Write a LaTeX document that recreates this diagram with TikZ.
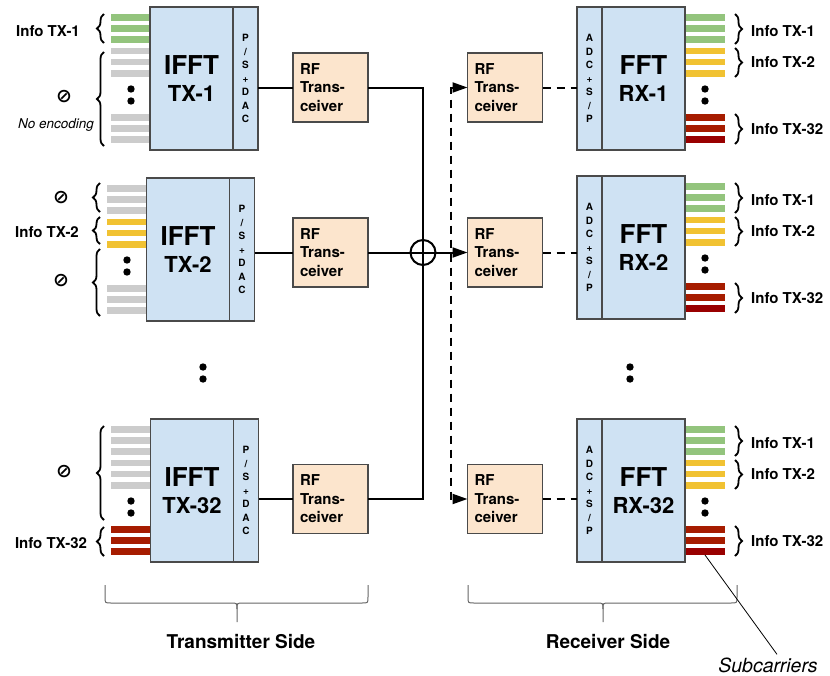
\documentclass[tikz,border=0pt]{standalone}
\usepackage{fontspec}
\setmainfont{TeX Gyre Heros}
\newfontfamily\symfont{DejaVu Sans}
\usetikzlibrary{arrows.meta,decorations.pathreplacing}

\definecolor{blueF}{HTML}{CFE2F3}
\definecolor{peach}{HTML}{FCE5CD}
\definecolor{edgec}{HTML}{4A4A4A}
\definecolor{colG}{HTML}{93C47D}
\definecolor{colY}{HTML}{F1C232}
\definecolor{colR}{HTML}{A61C00}
\definecolor{colD}{HTML}{990000}
\definecolor{colS}{HTML}{CCCCCC}
\definecolor{bgray}{HTML}{666666}

\tikzset{
  blk/.style={draw=edgec, fill=blueF, line width=1.2pt, inner sep=0pt, outer sep=0pt, minimum height=143pt},
  fftbox/.style={blk, minimum width=83pt, align=center, font=\bfseries\fontsize{26}{27}\selectfont},
  convbox/.style={blk, minimum width=25pt, align=center, font=\bfseries\fontsize{10}{13.5}\selectfont},
  rfbox/.style={draw=edgec, fill=peach, line width=1.2pt, outer sep=0pt, minimum width=75pt, minimum height=69pt,
     text width=61pt, inner xsep=7pt, inner ysep=0pt, align=left, font=\bfseries\fontsize{15}{18.5}\selectfont},
  conn/.style={line width=2pt},
  dconn/.style={line width=2pt, dash pattern=on 8.5pt off 5.5pt},
  arr/.style={-{Triangle[length=15pt,width=10pt]}},
  arrtwo/.style={{Triangle[length=15pt,width=10pt]}-{Triangle[length=15pt,width=10pt]}},
  lbr/.style={decorate, decoration={brace, amplitude=7pt}, line width=1.8pt},
  bbr/.style={line width=1pt, draw=bgray},
  info/.style={inner sep=0pt, font=\bfseries\fontsize{15}{17}\selectfont},
  empt/.style={inner sep=0pt, font=\symfont\bfseries\fontsize{19}{20}\selectfont},
  noenc/.style={inner sep=0pt, font=\itshape\fontsize{13.5}{15}\selectfont},
  side/.style={inner sep=0pt, font=\bfseries\fontsize{19}{21}\selectfont},
  subc/.style={inner sep=3pt, font=\itshape\fontsize{19.5}{21}\selectfont},
}

\newcommand\barsset[3]{%
  \foreach \c [count=\i from 0] in {#3} {%
    \pgfmathsetmacro\yy{#2 + (\i<6 ? 7+11.2*\i : 107+11.2*(\i-6))}%
    \fill[color=\c] (#1,\yy) rectangle ++(40,6.5);
  }
  \fill (#1+20,#2+82) circle[radius=3.7pt];
  \fill (#1+20,#2+94) circle[radius=3.7pt];
}

\begin{document}
\begin{tikzpicture}[x=1pt,y=-1pt]
\useasboundingbox (0,0) rectangle (830,675);

% ---------- subcarrier bars ----------
\barsset{111}{7}{colG,colG,colG,colS,colS,colS,colS,colS,colS}
\barsset{107}{178}{colS,colS,colS,colY,colY,colY,colS,colS,colS}
\barsset{111}{419}{colS,colS,colS,colS,colS,colS,colR,colR,colR}
\barsset{685}{7}{colG,colG,colG,colY,colY,colY,colR,colR,colD}
\barsset{685}{176}{colG,colG,colG,colY,colY,colY,colR,colR,colD}
\barsset{685}{419}{colG,colG,colG,colY,colY,colY,colR,colR,colD}

% ---------- transmitter blocks ----------
\node[fftbox] (tx1) at (191.5,78.5) {IFFT\\{\fontsize{22}{27}\selectfont TX-1}};
\node[convbox, anchor=west] (tx1ps) at (tx1.east) {P\\/\\S\\+\\D\\A\\C};
\node[fftbox] (tx2) at (188,249.5) {IFFT\\{\fontsize{22}{27}\selectfont TX-2}};
\node[convbox, anchor=west] (tx2ps) at (tx2.east) {P\\/\\S\\+\\D\\A\\C};
\node[fftbox] (tx32) at (192,490.5) {IFFT\\{\fontsize{22}{27}\selectfont TX-32}};
\node[convbox, anchor=west] (tx32ps) at (tx32.east) {P\\/\\S\\+\\D\\A\\C};

% ---------- receiver blocks ----------
\node[fftbox] (rx1) at (643.5,78.5) {FFT\\{\fontsize{22}{27}\selectfont RX-1}};
\node[convbox, anchor=east] (rx1adc) at (rx1.west) {A\\D\\C\\+\\S\\/\\P};
\node[fftbox] (rx2) at (643.5,247.5) {FFT\\{\fontsize{22}{27}\selectfont RX-2}};
\node[convbox, anchor=east] (rx2adc) at (rx2.west) {A\\D\\C\\+\\S\\/\\P};
\node[fftbox] (rx32) at (643.5,490.5) {FFT\\{\fontsize{22}{27}\selectfont RX-32}};
\node[convbox, anchor=east] (rx32adc) at (rx32.west) {A\\D\\C\\+\\S\\/\\P};

% ---------- RF transceivers ----------
\node[rfbox] (rft1) at (330.5,87.5) {RF\\Trans-\\ceiver};
\node[rfbox] (rft2) at (330.5,252.5) {RF\\Trans-\\ceiver};
\node[rfbox] (rft32) at (330.5,499) {RF\\Trans-\\ceiver};
\node[rfbox] (rfr1) at (505,87.5) {RF\\Trans-\\ceiver};
\node[rfbox] (rfr2) at (505,252.5) {RF\\Trans-\\ceiver};
\node[rfbox] (rfr32) at (505,499) {RF\\Trans-\\ceiver};

% ---------- connectors ----------
\draw[conn] (tx1ps.east |- rft1.west) -- (rft1.west);
\draw[conn] (tx2ps.east |- rft2.west) -- (rft2.west);
\draw[conn] (tx32ps.east |- rft32.west) -- (rft32.west);
\node[draw, circle, line width=2pt, minimum size=25pt, inner sep=0pt] (sum) at (423,252.5) {};
\draw[conn] (rft1.east) -| (sum.center) |- (rft32.east);
\draw[conn, arr] (rft2.east) -- (rfr2.west);
\coordinate (dtop) at (451,87.5);
\draw[dconn, arrtwo] (rfr1.west) -- (dtop) |- (rfr32.west);
\draw[dconn] (rfr1.east) -- (rfr1.east -| rx1adc.west);
\draw[dconn] (rfr2.east) -- (rfr2.east -| rx2adc.west);
\draw[dconn] (rfr32.east) -- (rfr32.east -| rx32adc.west);

% ---------- middle dots ----------
\fill (203,367) circle[radius=3.7pt];
\fill (203,379) circle[radius=3.7pt];
\fill (630,367) circle[radius=3.7pt];
\fill (630,379) circle[radius=3.7pt];

% ---------- left braces and labels ----------
\draw[lbr] (104,43) -- (104,14);
\draw[lbr] (104,146) -- (104,52);
\node[info] (lt1) at (48,31) {Info TX-1};
\node[empt] (lz1) at (64,97) {⊘};
\node[noenc] (lne) at (56,125) {No encoding};

\draw[lbr] (100,212) -- (100,183);
\draw[lbr] (100,244) -- (100,217);
\draw[lbr] (100,316) -- (100,249);
\node[empt] (lz2a) at (61,198) {⊘};
\node[info] (lt2) at (47,232) {Info TX-2};
\node[empt] (lz2b) at (61,281) {⊘};

\draw[lbr] (104,520) -- (104,426);
\draw[lbr] (104,556) -- (104,527);
\node[empt] (lz32) at (64,472) {⊘};
\node[info] (lt32) at (51,543) {Info TX-32};

% ---------- right braces and labels ----------
\foreach \T/\n in {7/1,176/2,419/32} {
  \draw[lbr] (735,\T+7) -- (735,\T+37);
  \draw[lbr] (735,\T+41) -- (735,\T+70);
  \draw[lbr] (735,\T+107) -- (735,\T+137);
  \node[info, anchor=west] (ra\n) at (751,\T+24) {Info TX-1};
  \node[info, anchor=west] (rb\n) at (751,\T+55) {Info TX-2};
  \node[info, anchor=west] (rc\n) at (751,\T+122) {Info TX-32};
}

% ---------- bottom braces ----------
\draw[bbr] (105,585) -- (105,597) .. controls (105,603) .. (111,603) -- (231,603)
   .. controls (237,603) .. (237,609) -- (237,622);
\draw[bbr] (237,609) .. controls (237,603) .. (243,603) -- (362,603)
   .. controls (368,603) .. (368,597) -- (368,585);
\node[side] (tside) at (241,642) {Transmitter Side};

\draw[bbr] (468,585) -- (468,597) .. controls (468,603) .. (474,603) -- (597,603)
   .. controls (603,603) .. (603,609) -- (603,622);
\draw[bbr] (603,609) .. controls (603,603) .. (609,603) -- (731,603)
   .. controls (737,603) .. (737,597) -- (737,585);
\node[side] (rside) at (608,642) {Receiver Side};

% ---------- subcarriers pointer ----------
\coordinate (sc) at (705,555);
\node[subc] (subl) at (768,665) {Subcarriers};
\draw[line width=0.8pt] (sc) -- ([xshift=9pt]subl.north);
\end{tikzpicture}
\end{document}
